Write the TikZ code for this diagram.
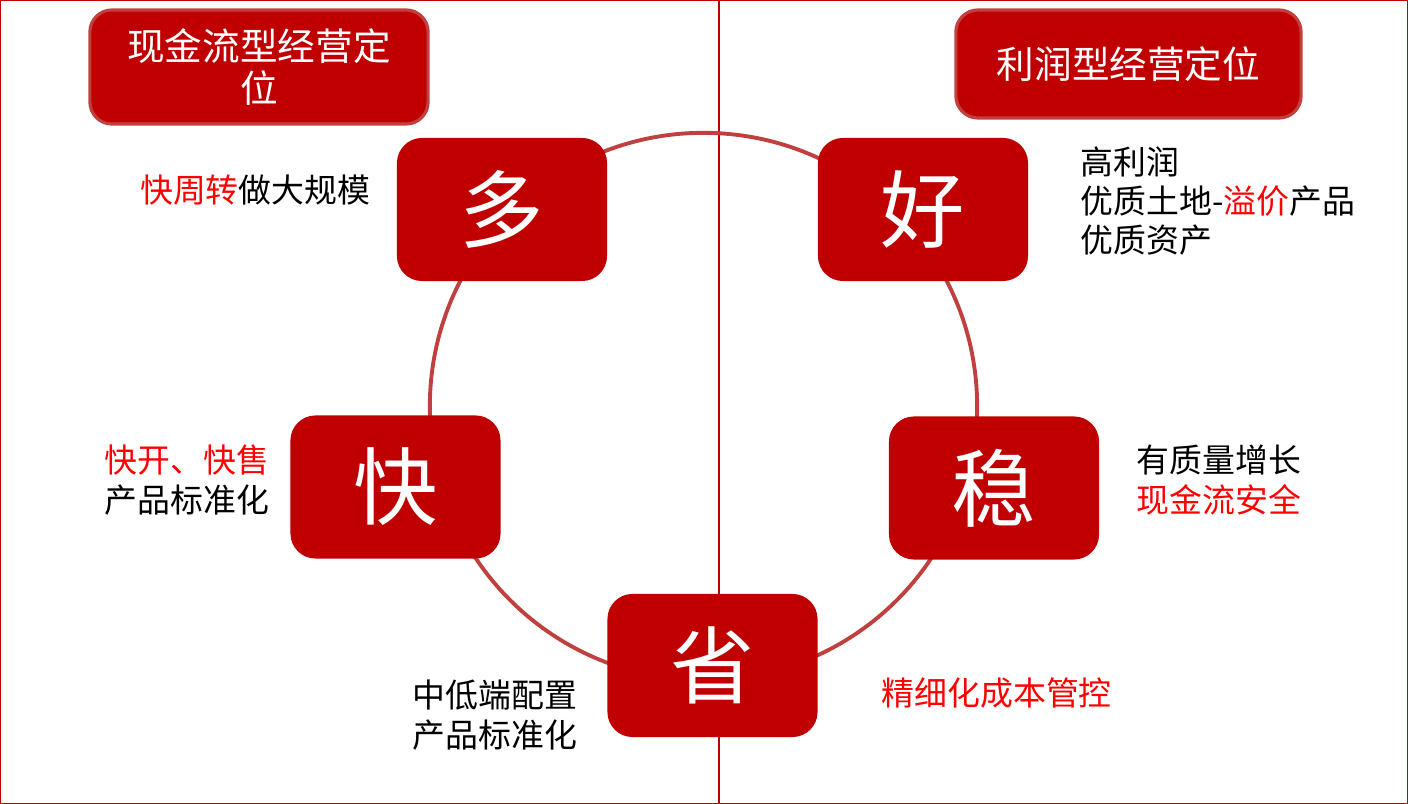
\documentclass[tikz,border=0pt]{standalone}
\usepackage{fontspec}
\setmainfont{Noto Sans CJK SC}
\usepackage{xcolor}
\usetikzlibrary{positioning}
\definecolor{rojoCaja}{RGB}{192,0,0}
\definecolor{rojoLinea}{RGB}{192,64,64}
\definecolor{rojoTexto}{RGB}{255,0,0}
\tikzset{
  caja/.style={fill=rojoCaja, rounded corners=0.25cm, minimum width=2.1cm, minimum height=1.43cm,
    text=white, font=\fontsize{24}{28}\selectfont, inner sep=0pt},
  titulo/.style={fill=rojoCaja, draw=rojoLinea, line width=0.9pt, rounded corners=0.22cm,
    text=white, align=center, inner sep=0pt, font=\fontsize{10.7}{12.2}\selectfont},
  texto/.style={align=left, inner sep=0pt, font=\fontsize{9.35}{11.2}\selectfont}
}
\newcommand{\rojo}[1]{\textcolor{rojoTexto}{#1}}
\begin{document}
\begin{tikzpicture}[x=0.01cm, y=-0.01cm]
				\useasboundingbox (0,0) rectangle (1408,804);
				% Marco y division
				\draw[rojoCaja, line width=0.3pt] (0.5,0.5) rectangle (1407.5,803.5);
				\coordinate (arriba) at (719,0);
				\coordinate (abajo) at (719,804);
				\draw[rojoCaja, line width=0.3pt] (arriba) -- (abajo);
				% Circulo
				\coordinate (centro) at (703.5,406.5);
				\draw[rojoLinea, line width=1.1pt] (centro) circle[radius=2.735cm];
				% Titulos
				\node[titulo, minimum width=3.38cm, minimum height=1.14cm] (tituloCaja) at (259,67) {现金流型经营定\\位};
				\node[titulo, minimum width=3.45cm, minimum height=1.08cm] (tituloLucro) at (1128.5,64) {利润型经营定位};
				% Nodos
				\node[caja] (nodoDuo) at (502,209.5) {多};
				\node[caja] (nodoHao) at (923,209.5) {好};
				\node[caja] (nodoKuai) at (395.5,487) {快};
				\node[caja] (nodoWen) at (994,488) {稳};
				\node[caja] (nodoSheng) at (712.5,665.5) {省};
				% Textos
				\node[texto, anchor=east] (textoDuo) at (371,190) {\rojo{快周转}做大规模};
				\node[texto, anchor=west] (textoHao) at (1080,201) {高利润\\优质土地-\rojo{溢价}产品\\优质资产};
				\node[texto, anchor=west] (textoKuai) at (104,480) {\rojo{快开、快售}\\产品标准化};
				\node[texto, anchor=west] (textoWen) at (1136,480) {有质量增长\\\rojo{现金流安全}};
				\node[texto, anchor=west] (textoSheng) at (412,715) {中低端配置\\产品标准化};
				\node[texto, anchor=west] (textoCosto) at (881,693) {\rojo{精细化成本管控}};
\end{tikzpicture}
\end{document}
